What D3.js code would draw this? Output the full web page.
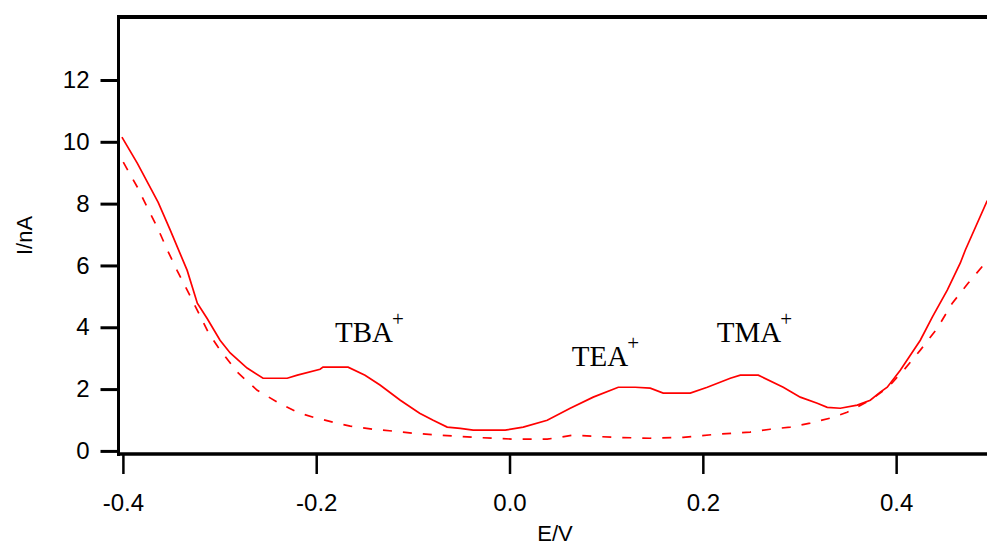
<!DOCTYPE html>
<html>
<head>
<meta charset="utf-8">
<script src="https://cdn.jsdelivr.net/npm/d3@7/dist/d3.min.js"></script>
<style>
  html, body { margin: 0; padding: 0; background: #fff; }
  svg { display: block; }
  text { font-family: "Liberation Sans", Arial, sans-serif; fill: #000; }
  .ann { font-family: "Liberation Serif", "Times New Roman", serif; }
</style>
</head>
<body>
<svg id="chart" width="987" height="545"></svg>
<script>
// Voltammogram: forward scan with ion transfers (solid) and blank electrolyte (dashed)
const potentialSolid = [-0.401, -0.385, -0.3635, -0.351, -0.3335, -0.323, -0.313, -0.2995, -0.289, -0.2715,
  -0.255, -0.230, -0.2195, -0.196, -0.193, -0.167, -0.1495, -0.134, -0.113, -0.093,
  -0.079, -0.0645, -0.051, -0.0376, -0.0045, 0.0142, 0.039, 0.0628, 0.0866, 0.1125,
  0.1301, 0.1456, 0.159, 0.187, 0.2046, 0.2284, 0.2388, 0.2574, 0.2832, 0.3008,
  0.3184, 0.3287, 0.3422, 0.3598, 0.3732, 0.3836, 0.3908, 0.4043, 0.425, 0.4374,
  0.4529, 0.4664, 0.4716, 0.4943];
const currentSolid = [10.15, 9.30, 8.04, 7.14, 5.84, 4.78, 4.29, 3.58, 3.17, 2.68,
  2.35, 2.35, 2.45, 2.64, 2.71, 2.71, 2.45, 2.13, 1.64, 1.22,
  0.99, 0.77, 0.73, 0.67, 0.67, 0.77, 0.99, 1.38, 1.74, 2.06,
  2.06, 2.03, 1.87, 1.87, 2.06, 2.35, 2.45, 2.45, 2.06, 1.74,
  1.54, 1.41, 1.38, 1.48, 1.64, 1.90, 2.06, 2.61, 3.58, 4.33,
  5.20, 6.08, 6.50, 8.10];

const potentialBlank = [-0.3996, -0.385, -0.375, -0.3645, -0.354, -0.344, -0.3335, -0.323, -0.3118, -0.3016,
  -0.2818, -0.261, -0.2403, -0.2196, -0.203, -0.1825, -0.1648, -0.141, -0.1204, -0.0997,
  -0.0717, -0.0376, 0.0038, 0.039, 0.066, 0.107, 0.1455, 0.1796, 0.2148, 0.249,
  0.2697, 0.2904, 0.311, 0.3317, 0.3493, 0.3732, 0.3918, 0.4094, 0.425, 0.4426,
  0.4581, 0.4746, 0.4902, 0.4943];
const currentBlank = [9.34, 8.53, 7.89, 7.24, 6.50, 5.84, 5.20, 4.55, 3.84, 3.36,
  2.55, 1.96, 1.58, 1.25, 1.09, 0.93, 0.80, 0.70, 0.64, 0.57,
  0.51, 0.44, 0.38, 0.38, 0.51, 0.44, 0.41, 0.44, 0.54, 0.61,
  0.70, 0.77, 0.90, 1.06, 1.25, 1.64, 2.06, 2.67, 3.26, 3.97,
  4.78, 5.43, 6.01, 6.17];

const xTicks = [-0.4, -0.2, 0.0, 0.2, 0.4];
const xTickLabels = ["-0.4", "-0.2", "0.0", "0.2", "0.4"];
const yTicks = [0, 2, 4, 6, 8, 10, 12];

// Peak labels: ion name and the position of its baseline start (E, I)
const peakNames = ["TBA", "TEA", "TMA"];
const peakE = [-0.1805, 0.0644, 0.2144];
const peakI = [3.53, 2.75, 3.53];

const svg = d3.select("#chart");
const plotLeft = 120, plotRight = 987, plotTop = 16, plotBottom = 454;

const x = d3.scaleLinear().domain([-0.403, 0.494]).range([plotLeft, plotRight]);
const y = d3.scaleLinear().domain([-0.1, 14.07]).range([plotBottom, plotTop]);

// Y axis
const yAxis = svg.append("g")
  .attr("transform", `translate(${plotLeft - 1.5},0)`)
  .call(d3.axisLeft(y).tickValues(yTicks).tickSize(18).tickPadding(11).tickFormat(d3.format("d")));
yAxis.select(".domain").remove();
yAxis.selectAll(".tick line").attr("stroke", "#000").attr("stroke-width", 3);
yAxis.selectAll(".tick text").attr("font-size", 24).attr("font-family", "Liberation Sans, Arial, sans-serif");

// X axis
const xAxis = svg.append("g")
  .attr("transform", `translate(0,${plotBottom})`)
  .call(d3.axisBottom(x).tickValues(xTicks).tickSize(20).tickFormat((d, i) => xTickLabels[i]));
xAxis.select(".domain").remove();
xAxis.selectAll(".tick line").attr("stroke", "#000").attr("stroke-width", 2.5);
xAxis.selectAll(".tick text")
  .attr("font-size", 24).attr("font-family", "Liberation Sans, Arial, sans-serif")
  .attr("dy", null).attr("y", 56.5);

// Frame: left axis, bottom axis, top border
svg.append("line").attr("x1", plotLeft - 1.5).attr("x2", plotLeft - 1.5).attr("y1", plotTop - 1).attr("y2", plotBottom + 2)
  .attr("stroke", "#000").attr("stroke-width", 3);
svg.append("line").attr("x1", plotLeft - 3).attr("x2", plotRight).attr("y1", plotBottom).attr("y2", plotBottom)
  .attr("stroke", "#000").attr("stroke-width", 3.5);
svg.append("line").attr("x1", plotLeft - 3).attr("x2", plotRight).attr("y1", plotTop + 1).attr("y2", plotTop + 1)
  .attr("stroke", "#000").attr("stroke-width", 4);

// Axis titles
svg.append("text").attr("x", 555).attr("y", 541).attr("text-anchor", "middle")
  .attr("font-size", 22).text("E/V");
svg.append("text").attr("transform", "translate(32,235.5) rotate(-90)").attr("text-anchor", "middle")
  .attr("font-size", 22).text("I/nA");

// Curves
const line = d3.line().x(d => x(d[0])).y(d => y(d[1]));
const solid = potentialSolid.map((e, i) => [e, currentSolid[i]]);
const blank = potentialBlank.map((e, i) => [e, currentBlank[i]]);

const plot = svg.append("g");
plot.append("path").datum(blank).attr("d", line)
  .attr("fill", "none").attr("stroke", "#ff0000").attr("stroke-width", 1.7)
  .attr("stroke-dasharray", "9,11");
plot.append("path").datum(solid).attr("d", line)
  .attr("fill", "none").attr("stroke", "#ff0000").attr("stroke-width", 1.7);

// Peak annotations
peakNames.forEach((name, i) => {
  const t = svg.append("text").attr("class", "ann")
    .attr("x", x(peakE[i])).attr("y", y(peakI[i]))
    .attr("font-size", 29);
  t.append("tspan").text(name);
  t.append("tspan").attr("font-size", 21).attr("dx", -1).attr("dy", -16).text("+");
});
</script>
</body>
</html>
